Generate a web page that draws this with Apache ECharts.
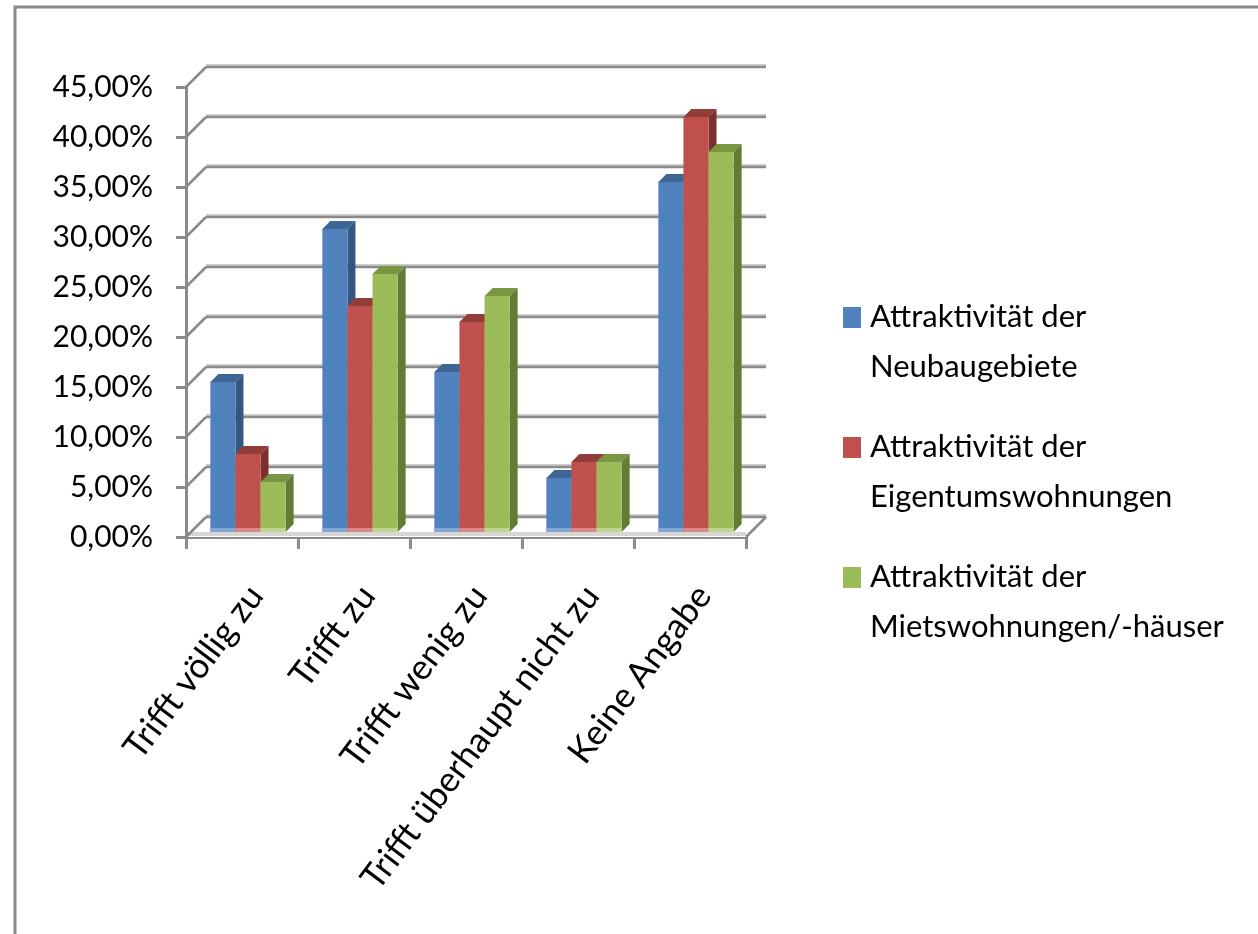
<!DOCTYPE html>
<html>
<head>
<meta charset="utf-8">
<title>Attraktivität</title>
<script src="https://cdn.jsdelivr.net/npm/echarts@6.0.0/dist/echarts.min.js"></script>
<style>
  html, body { margin: 0; padding: 0; background: #ffffff; }
  #chart { width: 1258px; height: 934px; }
</style>
</head>
<body>
<div id="chart"></div>
<script>
// ---- data ----
const categories = ['Trifft völlig zu', 'Trifft zu', 'Trifft wenig zu', 'Trifft überhaupt nicht zu', 'Keine Angabe'];
const seriesNames = [
  'Attraktivität der\nNeubaugebiete',
  'Attraktivität der\nEigentumswohnungen',
  'Attraktivität der\nMietswohnungen/-häuser'
];
const neubaugebiete      = [15.0, 30.3, 16.0, 5.4, 35.0];
const eigentumswohnungen = [7.8, 22.6, 21.0, 7.0, 41.5];
const mietswohnungen     = [5.0, 25.8, 23.6, 7.0, 38.0];
const yTicks = [0, 5, 10, 15, 20, 25, 30, 35, 40, 45];

// ---- styling ----
const FONT = 'Lato, "Open Sans", sans-serif';
const palette = [
  { front: '#4F81BD', top: '#3D6595', side: '#34577F', foot: '#86A7D2' },
  { front: '#C0504D', top: '#933D3A', side: '#7C302E', foot: '#D88A87' },
  { front: '#9BBB59', top: '#7A9642', side: '#647B35', foot: '#BFD594' }
];
const WALL_DX = 20, WALL_DY = 20;   // depth of the side wall / back wall
const BAR_OFF = 5;                  // bars stand slightly behind the front plane
const BAR_DX = 8, BAR_DY = 8;       // depth of each column
const BAR_FRACTION = 0.224;         // column width as share of the category band
const GRID_DARK = '#8A8A8A', GRID_LIGHT = '#CDCDCD';

const chart = echarts.init(document.getElementById('chart'), null, { renderer: 'canvas' });

// back wall gridlines, side wall diagonals and the floor
function renderWalls(params, api) {
  const cs = params.coordSys;
  const v = api.value(0);
  const y = api.coord([0, v])[1];
  const L = cs.x, R = cs.x + cs.width;
  const children = [];
  if (v === 0) {
    children.push({
      type: 'polygon',
      shape: { points: [[L, y], [R, y], [R + WALL_DX, y - WALL_DY], [L + WALL_DX, y - WALL_DY]] },
      style: { fill: '#FFFFFF' }
    });
    children.push({
      type: 'rect',
      shape: { x: L + 2, y: y - 5, width: R - L - 2, height: 4 },
      style: { fill: '#D6D6D6' }
    });
    children.push({
      type: 'line',
      shape: { x1: R, y1: y, x2: R + WALL_DX, y2: y - WALL_DY },
      style: { stroke: GRID_DARK, lineWidth: 2.5 }
    });
  }
  children.push({
    type: 'line',
    shape: { x1: L + WALL_DX, y1: y - WALL_DY - 2, x2: R + WALL_DX, y2: y - WALL_DY - 2 },
    style: { stroke: GRID_LIGHT, lineWidth: 2 }
  });
  children.push({
    type: 'line',
    shape: { x1: L + WALL_DX, y1: y - WALL_DY, x2: R + WALL_DX, y2: y - WALL_DY },
    style: { stroke: GRID_DARK, lineWidth: 2.5 }
  });
  children.push({
    type: 'line',
    shape: { x1: L, y1: y, x2: L + WALL_DX, y2: y - WALL_DY },
    style: { stroke: GRID_DARK, lineWidth: 2.5 }
  });
  return { type: 'group', children: children };
}

// a 3D-looking column: front face, top face and right side face
function makeColumnRenderer(k) {
  const c = palette[k];
  return function (params, api) {
    const ci = api.value(0);
    const v = api.value(1);
    const base = api.coord([ci, 0]);
    const topPt = api.coord([ci, v]);
    const band = api.size([1, 0])[0];
    const w = band * BAR_FRACTION;
    const cx = base[0] + BAR_OFF + 1;
    const x0 = cx - 1.5 * w + k * w;
    const yb = base[1] - BAR_OFF;
    const yt = topPt[1] - BAR_OFF;
    return {
      type: 'group',
      children: [
        {
          type: 'polygon',
          shape: { points: [[x0 + w, yt], [x0 + w + BAR_DX, yt - BAR_DY], [x0 + w + BAR_DX, yb - BAR_DY], [x0 + w, yb]] },
          style: { fill: c.side }
        },
        {
          type: 'polygon',
          shape: { points: [[x0, yt], [x0 + w, yt], [x0 + w + BAR_DX, yt - BAR_DY], [x0 + BAR_DX, yt - BAR_DY]] },
          style: { fill: c.top }
        },
        {
          type: 'rect',
          shape: { x: x0, y: yt, width: w, height: yb - yt },
          style: { fill: c.front }
        },
        {
          type: 'rect',
          shape: { x: x0, y: yb - 4, width: w, height: 4 },
          style: { fill: c.foot }
        }
      ]
    };
  };
}

const valueLists = [neubaugebiete, eigentumswohnungen, mietswohnungen];

const option = {
  backgroundColor: '#FFFFFF',
  animation: false,
  color: palette.map(p => p.front),
  graphic: [{
    type: 'rect',
    shape: { x: 15, y: 7, width: 1400, height: 1100 },
    style: { fill: 'none', stroke: '#8A8A8A', lineWidth: 3 },
    silent: true
  }],
  grid: { left: 186, top: 87, width: 560, height: 450 },
  legend: {
    orient: 'vertical',
    left: 838,
    top: 287,
    itemWidth: 22,
    itemHeight: 70,
    itemGap: 30,
    icon: 'path://M0,0H18V21H0Z M22,70',
    selectedMode: false,
    textStyle: { fontFamily: FONT, fontSize: 31, lineHeight: 50, color: '#000000' },
    data: seriesNames
  },
  xAxis: {
    type: 'category',
    data: categories,
    boundaryGap: true,
    axisLine: { show: true, lineStyle: { color: GRID_DARK, width: 3 } },
    axisTick: { show: true, length: 12, lineStyle: { color: GRID_DARK, width: 3 } },
    splitLine: { show: false },
    axisLabel: {
      interval: 0,
      rotate: 53,
      margin: 42,
      verticalAlign: 'top',
      fontFamily: FONT,
      fontSize: 35,
      color: '#000000'
    }
  },
  yAxis: {
    type: 'value',
    min: 0,
    max: 45,
    interval: 5,
    axisLine: { show: true, lineStyle: { color: GRID_DARK, width: 3 } },
    axisTick: { show: true, length: 10, lineStyle: { color: GRID_DARK, width: 3 } },
    splitLine: { show: false },
    axisLabel: {
      margin: 33,
      fontFamily: FONT,
      fontSize: 30,
      color: '#000000',
      formatter: v => v.toFixed(2).replace('.', ',') + '%'
    }
  },
  series: [
    {
      type: 'custom',
      name: 'walls',
      silent: true,
      z: 1,
      clip: false,
      renderItem: renderWalls,
      encode: { y: 0 },
      data: yTicks.map(v => [v])
    }
  ].concat(valueLists.map((vals, k) => ({
    type: 'custom',
    name: seriesNames[k],
    z: 3,
    clip: false,
    itemStyle: { color: palette[k].front },
    renderItem: makeColumnRenderer(k),
    encode: { x: 0, y: 1 },
    data: vals.map((v, i) => [i, v])
  })))
};

chart.setOption(option);
</script>
</body>
</html>
